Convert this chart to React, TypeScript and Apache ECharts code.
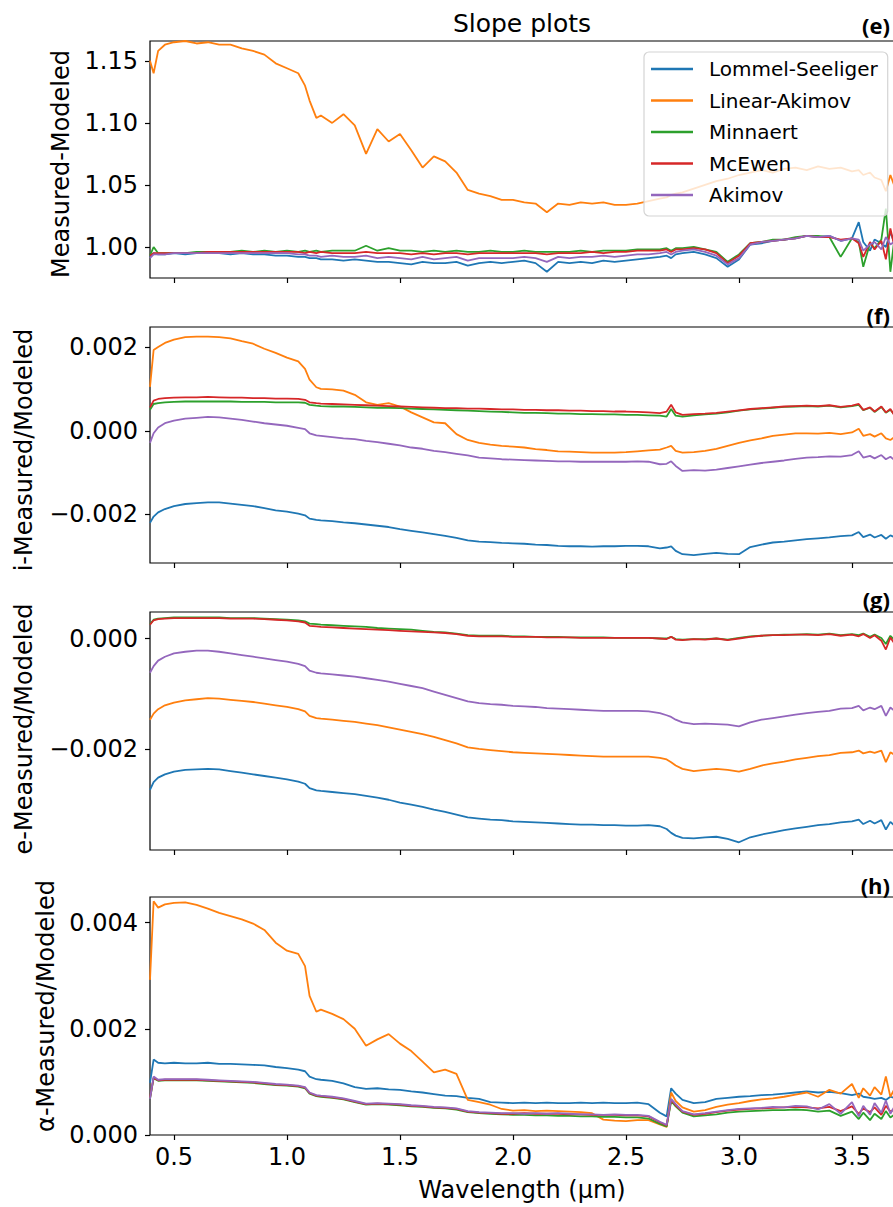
import React, { useEffect, useRef } from "react";
import * as echarts from "echarts";

const WAVELENGTH = [
  0.394, 0.41, 0.43, 0.46, 0.50, 0.55, 0.60, 0.65, 0.70, 0.75,
  0.80, 0.85, 0.90, 0.95, 1.00, 1.05, 1.08, 1.10, 1.13, 1.15,
  1.20, 1.25, 1.30, 1.35, 1.40, 1.45, 1.50, 1.55, 1.60, 1.65,
  1.70, 1.75, 1.80, 1.85, 1.90, 1.95, 2.00, 2.05, 2.10, 2.15,
  2.20, 2.25, 2.30, 2.35, 2.40, 2.45, 2.50, 2.55, 2.60, 2.65,
  2.68, 2.70, 2.72, 2.75, 2.80, 2.85, 2.90, 2.95, 3.00, 3.05,
  3.10, 3.15, 3.20, 3.25, 3.30, 3.35, 3.40, 3.45, 3.50, 3.53,
  3.55, 3.58, 3.60, 3.63, 3.65, 3.67, 3.686,
];

const SERIES_NAMES = ["Lommel-Seeliger", "Linear-Akimov", "Minnaert", "McEwen", "Akimov"];
const X_TICKS = [0.5, 1.0, 1.5, 2.0, 2.5, 3.0, 3.5];
const Y_TICKS_E = [1.0, 1.05, 1.1, 1.15];
const Y_TICKS_F = [-0.002, 0.0, 0.002];
const Y_TICKS_G = [-0.002, 0.0];
const Y_TICKS_H = [0.0, 0.002, 0.004];

// (e) Measured-Modeled
const LS_E = [
  0.992, 0.995, 0.994, 0.994, 0.995, 0.994, 0.995, 0.995, 0.995, 0.994,
  0.995, 0.994, 0.994, 0.993, 0.993, 0.992, 0.992, 0.991, 0.991, 0.990,
  0.990, 0.989, 0.990, 0.989, 0.988, 0.988, 0.987, 0.986, 0.988, 0.987,
  0.987, 0.988, 0.985, 0.987, 0.988, 0.987, 0.988, 0.989, 0.987, 0.980,
  0.988, 0.987, 0.988, 0.987, 0.989, 0.988, 0.989, 0.990, 0.991, 0.992,
  0.993, 0.991, 0.994, 0.995, 0.996, 0.994, 0.991, 0.984, 0.990, 1.002,
  1.003, 1.005, 1.006, 1.007, 1.009, 1.008, 1.009, 1.005, 1.007, 1.020,
  1.004, 0.997, 1.006, 1.003, 1.000, 1.012, 1.004,
];
const LA_E = [
  1.150, 1.140, 1.158, 1.163, 1.165, 1.166, 1.164, 1.165, 1.163, 1.163,
  1.160, 1.158, 1.155, 1.148, 1.144, 1.140, 1.130, 1.118, 1.104, 1.106,
  1.100, 1.107, 1.098, 1.075, 1.095, 1.085, 1.091, 1.078, 1.064, 1.073,
  1.069, 1.060, 1.046, 1.043, 1.041, 1.038, 1.038, 1.036, 1.035, 1.028,
  1.035, 1.034, 1.036, 1.035, 1.036, 1.034, 1.034, 1.035, 1.037, 1.039,
  1.040, 1.042, 1.043, 1.044, 1.047, 1.050, 1.053, 1.055, 1.058, 1.060,
  1.062, 1.060, 1.063, 1.064, 1.062, 1.065, 1.063, 1.064, 1.061, 1.062,
  1.058, 1.060, 1.056, 1.054, 1.045, 1.058, 1.050,
];
const MI_E = [
  0.993, 1.000, 0.995, 0.995, 0.995, 0.995, 0.996, 0.996, 0.996, 0.996,
  0.997, 0.996, 0.997, 0.996, 0.997, 0.996, 0.997, 0.996, 0.997, 0.996,
  0.997, 0.997, 0.997, 1.001, 0.997, 0.999, 0.997, 0.997, 0.996, 0.997,
  0.996, 0.997, 0.996, 0.996, 0.997, 0.996, 0.996, 0.997, 0.996, 0.996,
  0.996, 0.996, 0.997, 0.996, 0.997, 0.997, 0.997, 0.998, 0.998, 0.998,
  0.999, 0.997, 0.999, 0.999, 1.000, 0.998, 0.996, 0.988, 0.994, 1.003,
  1.004, 1.006, 1.006, 1.008, 1.009, 1.009, 1.008, 0.992, 1.007, 1.004,
  0.984, 1.003, 0.999, 1.006, 1.031, 0.980, 1.004,
];
const MC_E = [
  0.993, 0.995, 0.995, 0.995, 0.995, 0.995, 0.995, 0.996, 0.996, 0.996,
  0.996, 0.996, 0.996, 0.996, 0.996, 0.996, 0.995, 0.996, 0.995, 0.996,
  0.995, 0.995, 0.995, 0.996, 0.995, 0.995, 0.995, 0.994, 0.995, 0.994,
  0.995, 0.995, 0.994, 0.995, 0.995, 0.995, 0.995, 0.995, 0.995, 0.994,
  0.995, 0.995, 0.995, 0.996, 0.995, 0.996, 0.996, 0.997, 0.997, 0.997,
  0.998, 0.996, 0.998, 0.998, 0.999, 0.998, 0.995, 0.987, 0.993, 1.003,
  1.004, 1.005, 1.006, 1.007, 1.009, 1.008, 1.008, 1.006, 1.007, 1.003,
  0.992, 1.004, 0.998, 1.005, 0.990, 1.015, 1.002,
];
const AK_E = [
  0.991, 0.994, 0.994, 0.994, 0.995, 0.995, 0.995, 0.995, 0.995, 0.995,
  0.995, 0.995, 0.995, 0.995, 0.995, 0.994, 0.994, 0.993, 0.993, 0.992,
  0.993, 0.992, 0.992, 0.993, 0.991, 0.992, 0.991, 0.990, 0.992, 0.990,
  0.991, 0.992, 0.989, 0.991, 0.991, 0.991, 0.991, 0.992, 0.991, 0.988,
  0.992, 0.991, 0.992, 0.992, 0.993, 0.992, 0.993, 0.994, 0.994, 0.995,
  0.996, 0.994, 0.996, 0.997, 0.998, 0.996, 0.993, 0.986, 0.991, 1.002,
  1.004, 1.005, 1.006, 1.007, 1.009, 1.008, 1.009, 1.005, 1.007, 1.006,
  0.997, 1.002, 1.004, 0.998, 1.008, 1.002, 1.004,
];

// (f) i-Measured/Modeled
const LS_F = [
  -0.00220, -0.00205, -0.00195, -0.00187, -0.00180, -0.00175, -0.00173, -0.00171, -0.00171, -0.00174,
  -0.00177, -0.00180, -0.00185, -0.00190, -0.00193, -0.00198, -0.00202, -0.00210, -0.00213, -0.00214,
  -0.00216, -0.00219, -0.00221, -0.00224, -0.00227, -0.00230, -0.00235, -0.00239, -0.00243, -0.00247,
  -0.00251, -0.00256, -0.00262, -0.00265, -0.00266, -0.00268, -0.00269, -0.00270, -0.00272, -0.00273,
  -0.00275, -0.00276, -0.00276, -0.00277, -0.00276, -0.00276, -0.00275, -0.00275, -0.00276, -0.00281,
  -0.00279, -0.00276, -0.00287, -0.00295, -0.00297, -0.00294, -0.00292, -0.00294, -0.00295, -0.00278,
  -0.00272, -0.00267, -0.00265, -0.00262, -0.00259, -0.00257, -0.00255, -0.00252, -0.00250, -0.00242,
  -0.00254, -0.00248, -0.00255, -0.00249, -0.00258, -0.00250, -0.00254,
];
const LA_F = [
  0.00105, 0.00193, 0.00200, 0.00210, 0.00218, 0.00224, 0.00225, 0.00225, 0.00224, 0.00221,
  0.00214, 0.00208, 0.00196, 0.00186, 0.00175, 0.00166, 0.00148, 0.00122, 0.00104, 0.00100,
  0.00099, 0.00096, 0.00086, 0.00068, 0.00062, 0.00066, 0.00058, 0.00044, 0.00032, 0.00020,
  0.00018, -0.00008, -0.00022, -0.00029, -0.00033, -0.00036, -0.00038, -0.00040, -0.00044, -0.00046,
  -0.00049, -0.00050, -0.00051, -0.00052, -0.00052, -0.00052, -0.00051, -0.00049, -0.00047, -0.00045,
  -0.00040, -0.00036, -0.00048, -0.00052, -0.00051, -0.00048, -0.00043, -0.00036, -0.00029, -0.00023,
  -0.00018, -0.00012, -0.00009, -0.00006, -0.00006, -0.00007, -0.00005, -0.00008, -0.00004, 0.00005,
  -0.00012, -0.00008, -0.00014, -0.00006, -0.00018, -0.00022, -0.00016,
];
const MI_F = [
  0.00050, 0.00064, 0.00066, 0.00068, 0.00069, 0.00070, 0.00070, 0.00070, 0.00070, 0.00070,
  0.00069, 0.00069, 0.00069, 0.00068, 0.00068, 0.00068, 0.00067, 0.00062, 0.00060, 0.00059,
  0.00058, 0.00058, 0.00057, 0.00056, 0.00055, 0.00055, 0.00054, 0.00053, 0.00052, 0.00051,
  0.00050, 0.00049, 0.00048, 0.00047, 0.00046, 0.00045, 0.00044, 0.00043, 0.00043, 0.00042,
  0.00041, 0.00041, 0.00040, 0.00040, 0.00039, 0.00039, 0.00038, 0.00038, 0.00037, 0.00036,
  0.00034, 0.00052, 0.00036, 0.00034, 0.00037, 0.00039, 0.00041, 0.00044, 0.00048, 0.00051,
  0.00053, 0.00055, 0.00057, 0.00058, 0.00059, 0.00058, 0.00060, 0.00056, 0.00059, 0.00062,
  0.00049, 0.00055, 0.00045, 0.00057, 0.00043, 0.00050, 0.00040,
];
const MC_F = [
  0.00056, 0.00072, 0.00076, 0.00078, 0.00079, 0.00080, 0.00080, 0.00081, 0.00080, 0.00079,
  0.00079, 0.00078, 0.00078, 0.00077, 0.00077, 0.00076, 0.00074, 0.00068, 0.00066, 0.00065,
  0.00064, 0.00063, 0.00062, 0.00061, 0.00060, 0.00059, 0.00058, 0.00057, 0.00056, 0.00055,
  0.00054, 0.00054, 0.00053, 0.00053, 0.00052, 0.00051, 0.00051, 0.00050, 0.00050, 0.00049,
  0.00049, 0.00048, 0.00048, 0.00047, 0.00047, 0.00046, 0.00046, 0.00045, 0.00044, 0.00042,
  0.00046, 0.00062, 0.00044, 0.00038, 0.00040, 0.00041, 0.00043, 0.00046, 0.00049, 0.00052,
  0.00054, 0.00056, 0.00058, 0.00059, 0.00060, 0.00059, 0.00061, 0.00057, 0.00060, 0.00064,
  0.00050, 0.00056, 0.00046, 0.00058, 0.00044, 0.00052, 0.00038,
];
const AK_F = [
  -0.00029, -0.00006, 0.00008, 0.00018, 0.00024, 0.00029, 0.00031, 0.00033, 0.00032, 0.00029,
  0.00026, 0.00022, 0.00018, 0.00015, 0.00012, 0.00007, 0.00004, -0.00006, -0.00011, -0.00012,
  -0.00015, -0.00018, -0.00020, -0.00024, -0.00027, -0.00031, -0.00035, -0.00040, -0.00043, -0.00048,
  -0.00051, -0.00055, -0.00059, -0.00064, -0.00066, -0.00068, -0.00069, -0.00070, -0.00071, -0.00072,
  -0.00073, -0.00073, -0.00074, -0.00074, -0.00074, -0.00074, -0.00074, -0.00073, -0.00074, -0.00080,
  -0.00079, -0.00073, -0.00084, -0.00096, -0.00094, -0.00095, -0.00093, -0.00089, -0.00085, -0.00081,
  -0.00077, -0.00074, -0.00071, -0.00067, -0.00064, -0.00063, -0.00061, -0.00062, -0.00058, -0.00049,
  -0.00064, -0.00060, -0.00066, -0.00058, -0.00068, -0.00062, -0.00069,
];

// (g) e-Measured/Modeled
const LS_G = [
  -0.00274, -0.00260, -0.00252, -0.00246, -0.00241, -0.00238, -0.00237, -0.00236, -0.00237, -0.00240,
  -0.00243, -0.00246, -0.00249, -0.00252, -0.00255, -0.00259, -0.00263, -0.00271, -0.00275, -0.00276,
  -0.00278, -0.00280, -0.00282, -0.00285, -0.00288, -0.00292, -0.00297, -0.00301, -0.00305, -0.00310,
  -0.00314, -0.00319, -0.00324, -0.00326, -0.00328, -0.00329, -0.00331, -0.00332, -0.00333, -0.00334,
  -0.00335, -0.00336, -0.00337, -0.00337, -0.00338, -0.00338, -0.00339, -0.00339, -0.00338, -0.00340,
  -0.00345, -0.00352, -0.00357, -0.00361, -0.00362, -0.00360, -0.00359, -0.00363, -0.00369, -0.00360,
  -0.00355, -0.00351, -0.00347, -0.00344, -0.00341, -0.00338, -0.00336, -0.00333, -0.00331, -0.00328,
  -0.00336, -0.00330, -0.00335, -0.00329, -0.00346, -0.00332, -0.00338,
];
const LA_G = [
  -0.00147, -0.00136, -0.00128, -0.00121, -0.00116, -0.00112, -0.00110, -0.00108, -0.00109, -0.00111,
  -0.00113, -0.00115, -0.00118, -0.00121, -0.00124, -0.00128, -0.00132, -0.00140, -0.00144, -0.00145,
  -0.00147, -0.00149, -0.00151, -0.00154, -0.00157, -0.00161, -0.00165, -0.00169, -0.00173, -0.00178,
  -0.00184, -0.00190, -0.00197, -0.00200, -0.00202, -0.00204, -0.00206, -0.00207, -0.00208, -0.00209,
  -0.00210, -0.00211, -0.00212, -0.00213, -0.00214, -0.00214, -0.00214, -0.00214, -0.00214, -0.00216,
  -0.00219, -0.00224, -0.00230, -0.00236, -0.00240, -0.00238, -0.00236, -0.00238, -0.00241, -0.00236,
  -0.00230, -0.00226, -0.00223, -0.00219, -0.00216, -0.00213, -0.00211, -0.00207, -0.00206, -0.00203,
  -0.00208, -0.00205, -0.00207, -0.00203, -0.00224, -0.00206, -0.00210,
];
const MI_G = [
  0.00026, 0.00034, 0.00036, 0.00037, 0.00038, 0.00038, 0.00038, 0.00038, 0.00038, 0.00037,
  0.00037, 0.00037, 0.00036, 0.00035, 0.00034, 0.00033, 0.00031, 0.00027, 0.00026, 0.00025,
  0.00024, 0.00023, 0.00022, 0.00021, 0.00019, 0.00018, 0.00017, 0.00016, 0.00014, 0.00012,
  0.00011, 0.00009, 0.00006, 0.00005, 0.00005, 0.00005, 0.00004, 0.00004, 0.00003, 0.00003,
  0.00003, 0.00002, 0.00002, 0.00002, 0.00002, 0.00001, 0.00001, 0.00001, 0.00001, 0.00000,
  0.00000, 0.00003, -0.00001, -0.00002, -0.00001, -0.00001, 0.00000, -0.00002, 0.00001, 0.00004,
  0.00005, 0.00006, 0.00007, 0.00007, 0.00008, 0.00007, 0.00009, 0.00006, 0.00008, 0.00006,
  0.00009, 0.00003, 0.00007, 0.00001, -0.00010, 0.00005, -0.00002,
];
const MC_G = [
  0.00025, 0.00033, 0.00035, 0.00036, 0.00037, 0.00037, 0.00037, 0.00037, 0.00037, 0.00036,
  0.00036, 0.00036, 0.00035, 0.00034, 0.00033, 0.00031, 0.00029, 0.00023, 0.00022, 0.00021,
  0.00020, 0.00019, 0.00018, 0.00017, 0.00016, 0.00015, 0.00014, 0.00013, 0.00012, 0.00011,
  0.00010, 0.00008, 0.00005, 0.00004, 0.00004, 0.00004, 0.00003, 0.00003, 0.00003, 0.00002,
  0.00002, 0.00002, 0.00001, 0.00001, 0.00001, 0.00001, 0.00001, 0.00001, 0.00001, 0.00000,
  -0.00001, 0.00003, -0.00002, -0.00003, -0.00001, -0.00002, 0.00000, -0.00003, 0.00000, 0.00003,
  0.00005, 0.00006, 0.00006, 0.00007, 0.00007, 0.00006, 0.00008, 0.00005, 0.00007, 0.00004,
  0.00008, 0.00001, 0.00006, -0.00004, -0.00020, 0.00002, -0.00008,
];
const AK_G = [
  -0.00062, -0.00050, -0.00040, -0.00033, -0.00027, -0.00024, -0.00022, -0.00022, -0.00024, -0.00027,
  -0.00030, -0.00033, -0.00036, -0.00039, -0.00042, -0.00046, -0.00050, -0.00058, -0.00062, -0.00063,
  -0.00065, -0.00067, -0.00069, -0.00072, -0.00075, -0.00078, -0.00082, -0.00086, -0.00090, -0.00096,
  -0.00102, -0.00108, -0.00114, -0.00117, -0.00119, -0.00120, -0.00122, -0.00123, -0.00124, -0.00126,
  -0.00127, -0.00128, -0.00129, -0.00130, -0.00131, -0.00131, -0.00131, -0.00131, -0.00132, -0.00135,
  -0.00139, -0.00142, -0.00147, -0.00152, -0.00155, -0.00154, -0.00155, -0.00156, -0.00159, -0.00152,
  -0.00147, -0.00144, -0.00141, -0.00138, -0.00135, -0.00133, -0.00131, -0.00127, -0.00126, -0.00122,
  -0.00130, -0.00125, -0.00128, -0.00122, -0.00140, -0.00125, -0.00130,
];

// (h) α-Measured/Modeled
const LS_H = [
  0.00098, 0.00142, 0.00136, 0.00135, 0.00136, 0.00135, 0.00135, 0.00136, 0.00134, 0.00134,
  0.00133, 0.00132, 0.00131, 0.00128, 0.00126, 0.00123, 0.00120, 0.00110, 0.00105, 0.00104,
  0.00102, 0.00097, 0.00090, 0.00087, 0.00088, 0.00086, 0.00085, 0.00082, 0.00080, 0.00077,
  0.00074, 0.00073, 0.00070, 0.00068, 0.00062, 0.00061, 0.00060, 0.00061, 0.00060, 0.00061,
  0.00060, 0.00060, 0.00061, 0.00060, 0.00061, 0.00060, 0.00060, 0.00061, 0.00058, 0.00042,
  0.00035, 0.00088, 0.00078, 0.00066, 0.00060, 0.00062, 0.00068, 0.00070, 0.00072, 0.00073,
  0.00075, 0.00076, 0.00078, 0.00080, 0.00082, 0.00080, 0.00081, 0.00079, 0.00075, 0.00078,
  0.00072, 0.00070, 0.00068, 0.00070, 0.00066, 0.00072, 0.00070,
];
const LA_H = [
  0.00292, 0.00440, 0.00428, 0.00434, 0.00437, 0.00438, 0.00433, 0.00426, 0.00418, 0.00412,
  0.00406, 0.00398, 0.00386, 0.00362, 0.00347, 0.00341, 0.00318, 0.00262, 0.00232, 0.00236,
  0.00228, 0.00218, 0.00200, 0.00168, 0.00180, 0.00190, 0.00172, 0.00158, 0.00138, 0.00118,
  0.00123, 0.00115, 0.00066, 0.00062, 0.00057, 0.00049, 0.00046, 0.00047, 0.00045, 0.00046,
  0.00045, 0.00044, 0.00043, 0.00041, 0.00029, 0.00027, 0.00026, 0.00028, 0.00028, 0.00020,
  0.00015, 0.00080, 0.00064, 0.00052, 0.00044, 0.00047, 0.00053, 0.00057, 0.00060, 0.00064,
  0.00067, 0.00069, 0.00072, 0.00076, 0.00080, 0.00072, 0.00085, 0.00078, 0.00096, 0.00070,
  0.00088, 0.00074, 0.00090, 0.00076, 0.00110, 0.00072, 0.00085,
];
const MI_H = [
  0.00068, 0.00107, 0.00102, 0.00103, 0.00103, 0.00103, 0.00103, 0.00102, 0.00101, 0.00100,
  0.00099, 0.00098, 0.00096, 0.00094, 0.00093, 0.00091, 0.00088, 0.00078, 0.00073, 0.00072,
  0.00070, 0.00067, 0.00062, 0.00057, 0.00058, 0.00057, 0.00056, 0.00054, 0.00053, 0.00051,
  0.00050, 0.00048, 0.00043, 0.00041, 0.00040, 0.00039, 0.00038, 0.00038, 0.00037, 0.00037,
  0.00036, 0.00036, 0.00035, 0.00035, 0.00034, 0.00034, 0.00033, 0.00033, 0.00031, 0.00021,
  0.00016, 0.00064, 0.00054, 0.00042, 0.00035, 0.00037, 0.00039, 0.00042, 0.00044, 0.00045,
  0.00046, 0.00047, 0.00047, 0.00048, 0.00047, 0.00044, 0.00046, 0.00036, 0.00044, 0.00030,
  0.00042, 0.00028, 0.00040, 0.00030, 0.00045, 0.00033, 0.00038,
];
const MC_H = [
  0.00070, 0.00108, 0.00103, 0.00104, 0.00104, 0.00104, 0.00104, 0.00103, 0.00102, 0.00101,
  0.00100, 0.00099, 0.00097, 0.00095, 0.00094, 0.00092, 0.00089, 0.00079, 0.00074, 0.00073,
  0.00071, 0.00068, 0.00063, 0.00058, 0.00059, 0.00058, 0.00057, 0.00055, 0.00054, 0.00052,
  0.00051, 0.00049, 0.00044, 0.00042, 0.00041, 0.00040, 0.00040, 0.00041, 0.00040, 0.00040,
  0.00040, 0.00039, 0.00039, 0.00038, 0.00038, 0.00038, 0.00037, 0.00037, 0.00035, 0.00024,
  0.00018, 0.00066, 0.00056, 0.00044, 0.00038, 0.00040, 0.00043, 0.00046, 0.00048, 0.00049,
  0.00050, 0.00051, 0.00052, 0.00053, 0.00052, 0.00050, 0.00053, 0.00045, 0.00054, 0.00040,
  0.00050, 0.00043, 0.00052, 0.00038, 0.00055, 0.00044, 0.00048,
];
const AK_H = [
  0.00068, 0.00110, 0.00104, 0.00105, 0.00105, 0.00105, 0.00105, 0.00104, 0.00103, 0.00102,
  0.00101, 0.00100, 0.00098, 0.00096, 0.00095, 0.00093, 0.00090, 0.00080, 0.00075, 0.00074,
  0.00072, 0.00069, 0.00064, 0.00059, 0.00060, 0.00059, 0.00058, 0.00056, 0.00055, 0.00053,
  0.00052, 0.00050, 0.00045, 0.00043, 0.00042, 0.00041, 0.00041, 0.00040, 0.00041, 0.00040,
  0.00041, 0.00040, 0.00039, 0.00039, 0.00038, 0.00039, 0.00038, 0.00038, 0.00036, 0.00025,
  0.00019, 0.00068, 0.00058, 0.00045, 0.00039, 0.00041, 0.00044, 0.00047, 0.00049, 0.00050,
  0.00051, 0.00053, 0.00052, 0.00055, 0.00054, 0.00048, 0.00058, 0.00040, 0.00062, 0.00035,
  0.00055, 0.00038, 0.00060, 0.00042, 0.00065, 0.00040, 0.00052,
];

const COLORS = ["#1f77b4", "#ff7f0e", "#2ca02c", "#d62728", "#9467bd"];
const FONT = "DejaVu Sans";

function fmt(v: number, digits: number): string {
  return v.toFixed(digits).replace("-", "\u2212");
}

export default function App() {
  const ref = useRef<HTMLDivElement>(null);

  useEffect(() => {
    if (!ref.current) return;
    const chart = echarts.init(ref.current, null, { renderer: "svg" });

    const panels = [
      { top: 41, height: 237, min: 0.975, max: 1.166, ticks: Y_TICKS_E, digits: 2, data: [LS_E, LA_E, MI_E, MC_E, AK_E] },
      { top: 327, height: 236, min: -0.00316, max: 0.00248, ticks: Y_TICKS_F, digits: 3, data: [LS_F, LA_F, MI_F, MC_F, AK_F] },
      { top: 612, height: 238, min: -0.00383, max: 0.00048, ticks: Y_TICKS_G, digits: 3, data: [LS_G, LA_G, MI_G, MC_G, AK_G] },
      { top: 897, height: 238, min: 0, max: 0.00448, ticks: Y_TICKS_H, digits: 3, data: [LS_H, LA_H, MI_H, MC_H, AK_H] },
    ];

    const grid = panels.map((p) => ({
      left: 150,
      right: 6,
      top: p.top,
      height: p.height,
      show: true,
      borderColor: "#000",
      borderWidth: 1.2,
      backgroundColor: "transparent",
    }));

    const xAxis = panels.map((p, i) => ({
      type: "value",
      gridIndex: i,
      min: 0.394,
      max: 3.686,
      position: "bottom",
      axisLine: { show: false, onZero: false },
      splitLine: { show: false },
      axisTick: {
        show: true,
        length: 5,
        customValues: X_TICKS,
        lineStyle: { color: "#000", width: 1.2 },
      },
      axisLabel: {
        show: i === 3,
        customValues: X_TICKS,
        formatter: (v: number) => v.toFixed(1),
        fontSize: 24,
        fontFamily: FONT,
        color: "#000",
        margin: 10,
      },
    }));

    const yAxis = panels.map((p, i) => ({
      type: "value",
      gridIndex: i,
      min: p.min,
      max: p.max,
      position: "left",
      axisLine: { show: false, onZero: false },
      splitLine: { show: false },
      axisTick: {
        show: true,
        length: 5,
        customValues: p.ticks,
        lineStyle: { color: "#000", width: 1.2 },
      },
      axisLabel: {
        show: true,
        customValues: p.ticks,
        formatter: (v: number) => fmt(v, p.digits),
        fontSize: 24,
        fontFamily: FONT,
        color: "#000",
        margin: 12,
      },
    }));

    const series: any[] = [];
    panels.forEach((p, i) => {
      p.data.forEach((arr, k) => {
        series.push({
          type: "line",
          name: SERIES_NAMES[k],
          xAxisIndex: i,
          yAxisIndex: i,
          data: WAVELENGTH.map((w, j) => [w, arr[j]]),
          showSymbol: false,
          symbol: "none",
          lineStyle: { color: COLORS[k], width: 1.8 },
          itemStyle: { color: COLORS[k] },
          emphasis: { disabled: true },
          silent: true,
        });
      });
    });

    const yNames = [
      { text: "Measured-Modeled", x: 61, y: 164 },
      { text: "i-Measured/Modeled", x: 24, y: 450 },
      { text: "e-Measured/Modeled", x: 24, y: 729 },
      { text: "\u03b1-Measured/Modeled", x: 46, y: 1006 },
    ];
    const letters = [
      { text: "(e)", y: 25 },
      { text: "(f)", y: 315 },
      { text: "(g)", y: 599 },
      { text: "(h)", y: 885 },
    ];

    const graphic: any[] = [
      {
        type: "text",
        x: 522,
        y: 23,
        style: { text: "Slope plots", fontSize: 25, fontFamily: FONT, fill: "#000", align: "center", verticalAlign: "middle", textAlign: "center", textVerticalAlign: "middle" },
      },
      {
        type: "text",
        x: 522,
        y: 1190,
        style: { text: "Wavelength (\u00b5m)", fontSize: 24, fontFamily: FONT, fill: "#000", align: "center", verticalAlign: "middle", textAlign: "center", textVerticalAlign: "middle" },
      },
      ...yNames.map((n) => ({
        type: "text",
        x: n.x,
        y: n.y,
        rotation: Math.PI / 2,
        style: { text: n.text, fontSize: 24, fontFamily: FONT, fill: "#000", align: "center", verticalAlign: "middle", textAlign: "center", textVerticalAlign: "middle" },
      })),
      ...letters.map((l) => ({
        type: "text",
        x: 890,
        y: l.y,
        style: { text: l.text, fontSize: 22, fontWeight: "bold", fontFamily: "Open Sans", fill: "#000", align: "right", verticalAlign: "middle", textAlign: "right", textVerticalAlign: "middle" },
      })),
    ];

    chart.setOption({
      animation: false,
      backgroundColor: "#fff",
      grid,
      xAxis,
      yAxis,
      series,
      graphic,
      legend: {
        show: true,
        orient: "vertical",
        left: 644,
        top: 52,
        data: SERIES_NAMES,
        icon: "rect",
        itemWidth: 42,
        itemHeight: 2.5,
        itemGap: 9.5,
        padding: [6, 10, 10, 7],
        backgroundColor: "rgba(255,255,255,0.8)",
        borderColor: "#d4d4d4",
        borderWidth: 1.2,
        borderRadius: 5,
        selectedMode: false,
        textStyle: { fontSize: 20, fontFamily: FONT, color: "#000", lineHeight: 22, padding: [0, 0, 0, 11] },
      },
    });

    return () => chart.dispose();
  }, []);

  return (
    <div style={{ position: "fixed", left: 0, top: 0, width: 893, height: 1207, overflow: "hidden", background: "#fff" }}>
      <div ref={ref} style={{ width: 900, height: 1207 }} />
    </div>
  );
}
